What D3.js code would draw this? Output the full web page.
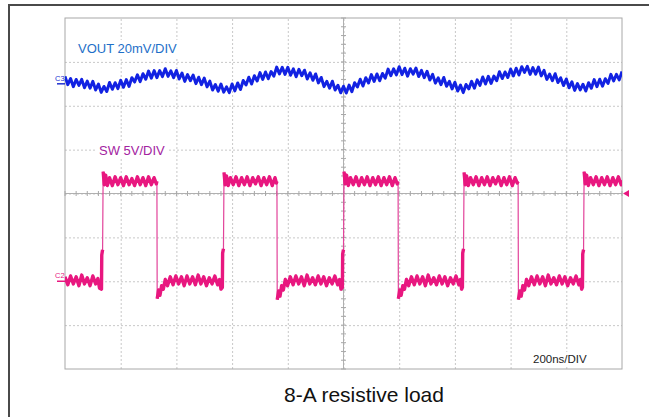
<!DOCTYPE html>
<html><head><meta charset="utf-8">
<script src="https://cdn.jsdelivr.net/npm/d3@7"></script>
<style>html,body{margin:0;padding:0;background:#fff;} svg{display:block;}</style>
</head><body>
<svg id="c" width="649" height="417"></svg>
<script>
// ---------- data ----------
const timeDomainNs = [0, 2000];          // 10 div x 200 ns
const divDomain = [-4, 4];               // 8 vertical divisions
const timeTicksNs = [0, 200, 400, 600, 800, 1000, 1200, 1400, 1600, 1800, 2000];
const divTicks = [-4, -3, -2, -1, 0, 1, 2, 3, 4];

// VOUT (C3) ripple, mV relative to channel offset, sampled every 10 ns
const voutStepNs = 10;
const voutMvPerDiv = 20;
const voutOffsetDiv = 2.5;
const voutMv = [
  3.4,-0.4,2.4,-1.3,2.0,-0.7,2.0,-1.8,1.2,-2.0,
  1.1,-2.8,-0.1,-3.9,-1.2,-3.5,0.6,-2.5,0.5,-2.2,
  1.6,-1.6,1.9,-1.2,2.8,0.8,4.1,1.0,4.6,2.1,
  5.8,2.6,6.0,2.8,6.0,3.3,6.9,3.4,5.9,2.8,
  6.1,2.2,4.9,1.1,4.2,1.4,4.0,0.1,3.0,-0.4,
  2.6,-1.4,1.2,-2.8,-0.3,-3.4,-0.1,-3.8,-1.4,-4.0,
  -0.1,-3.2,0.4,-2.6,1.5,-0.5,3.0,-0.1,3.7,1.3,
  5.1,2.0,5.4,2.3,5.6,3.5,7.6,4.5,7.5,4.3,
  7.5,3.9,6.8,3.2,6.6,3.7,6.2,2.2,5.0,1.6,
  4.5,0.4,2.9,-1.3,1.1,-2.0,1.2,-2.8,-0.7,-4.1,
  -1.1,-4.2,-0.6,-3.6,0.5,-1.4,2.1,-1.0,2.8,0.4,
  4.2,1.1,4.5,1.4,4.7,2.6,6.7,3.7,6.8,4.1,
  7.8,4.2,7.1,3.5,6.9,4.4,7.2,3.3,6.1,2.8,
  5.7,1.7,4.3,0.3,2.7,-0.4,2.9,-1.1,1.1,-2.3,
  0.7,-3.3,-0.6,-4.0,-0.3,-2.3,1.1,-2.0,1.8,-0.7,
  3.1,-0.1,3.4,0.2,3.5,1.4,5.5,2.4,5.4,2.9,
  6.7,3.6,7.1,4.0,7.8,5.2,8.0,4.3,7.4,4.4,
  7.6,3.6,6.1,2.0,4.4,1.4,4.6,0.6,2.7,-0.8,
  2.2,-1.8,0.9,-3.0,0.1,-2.8,-0.2,-3.3,0.5,-2.0,
  1.9,-1.3,2.1,-1.1,2.3,0.2,4.3,1.3,4.3,1.8,
  5.6
];

// SW (C2) node voltage, [time ns, volts]
const swVPerDiv = 5;
const swOffsetDiv = -2;
const swPoints = [
  [0,0.5],[10,-0.4],[20,0.6],[30,-0.3],[40,0.5],[50,-0.5],[60,0.7],[70,-0.3],[80,0.4],[90,-0.5],[100,0.6],[110,-0.3],[118,0.3],[124,-0.8],[131,-0.9],
  [132,3.0],[135,3.6],[137,12.5],
  [141,11.0],[146,12.1],[152,10.9],[160,11.8],[170,10.9],[180,11.9],[190,11.0],[200,11.8],[210,10.9],[220,11.9],[230,11.0],[240,11.7],[250,10.9],[260,11.9],[270,11.0],[280,11.8],[290,10.9],[300,11.9],[310,11.0],[320,11.8],[328,11.1],
  [330,11.4],[331,-2.0],[336,-1.0],[341,-1.6],[347,-0.5],[353,-0.9],[360,0.2],[368,-0.5],
  [378,0.5],[388,-0.4],[398,0.6],[408,-0.3],[418,0.5],[428,-0.5],[438,0.6],[448,-0.3],[458,0.5],[468,-0.4],[478,0.7],[488,-0.3],[498,0.5],[508,-0.5],[518,0.4],[528,-0.3],[538,0.6],[548,-0.4],[555,0.2],[560,-0.9],[565,-0.7],
  [566,3.2],[569,3.7],[571,12.4],
  [575,11.0],[580,12.0],[586,10.9],[594,11.8],[604,11.0],[614,11.9],[624,10.9],[634,11.8],[644,11.0],[654,11.9],[664,10.9],[674,11.8],[684,11.1],[694,11.9],[704,10.9],[714,11.8],[724,11.0],[734,11.9],[744,10.9],[754,11.8],[759,11.2],
  [761,11.4],[762,-2.1],[767,-1.1],[772,-1.7],[778,-0.5],[784,-1.0],[791,0.2],[799,-0.5],
  [809,0.5],[819,-0.4],[829,0.6],[839,-0.3],[849,0.5],[859,-0.5],[869,0.7],[879,-0.3],[889,0.4],[899,-0.4],[909,0.6],[919,-0.3],[929,0.5],[939,-0.5],[949,0.4],[959,-0.3],[969,0.6],[979,-0.4],[986,0.2],[991,-0.9],[996,-0.7],
  [997,3.1],[1000,3.6],[1002,12.5],
  [1006,11.1],[1011,12.1],[1017,10.9],[1025,11.8],[1035,11.0],[1045,11.9],[1055,10.9],[1065,11.8],[1075,11.0],[1085,11.9],[1095,10.9],[1105,11.8],[1115,11.0],[1125,11.9],[1135,10.9],[1145,11.8],[1155,11.0],[1165,11.9],[1175,10.9],[1185,11.8],[1193,11.1],
  [1196,11.4],[1197,-2.0],[1202,-1.0],[1207,-1.6],[1213,-0.5],[1219,-0.9],[1226,0.2],[1234,-0.5],
  [1244,0.5],[1254,-0.4],[1264,0.6],[1274,-0.3],[1284,0.5],[1294,-0.5],[1304,0.7],[1314,-0.3],[1324,0.4],[1334,-0.4],[1344,0.6],[1354,-0.3],[1364,0.5],[1374,-0.5],[1384,0.4],[1394,-0.3],[1404,0.6],[1414,-0.4],[1420,0.2],[1424,-0.9],[1427,-0.7],
  [1428,3.2],[1431,3.7],[1433,12.4],
  [1437,11.0],[1442,12.0],[1448,10.9],[1456,11.8],[1466,11.0],[1476,11.9],[1486,10.9],[1496,11.8],[1506,11.0],[1516,11.9],[1526,10.9],[1536,11.8],[1546,11.1],[1556,11.9],[1566,10.9],[1576,11.8],[1586,11.0],[1596,11.9],[1606,10.9],[1616,11.8],[1624,11.2],
  [1627,11.4],[1628,-2.1],[1633,-1.1],[1638,-1.7],[1644,-0.5],[1650,-1.0],[1657,0.2],[1665,-0.5],
  [1675,0.5],[1685,-0.4],[1695,0.6],[1705,-0.3],[1715,0.5],[1725,-0.5],[1735,0.7],[1745,-0.3],[1755,0.4],[1765,-0.4],[1775,0.6],[1785,-0.3],[1795,0.5],[1805,-0.5],[1815,0.4],[1825,-0.3],[1835,0.6],[1845,-0.4],[1851,0.2],[1855,-0.9],[1858,-0.7],
  [1859,3.1],[1862,3.6],[1864,12.5],
  [1868,11.1],[1873,12.1],[1879,10.9],[1887,11.8],[1897,11.0],[1907,11.9],[1917,10.9],[1927,11.8],[1937,11.0],[1947,11.9],[1957,10.9],[1967,11.8],[1977,11.0],[1987,11.9],[1997,11.0],[2000,11.5]
];

const voutLabel = "VOUT 20mV/DIV";
const swLabel = "SW 5V/DIV";
const timebaseLabel = "200ns/DIV";
const caption = "8-A resistive load";
const voutTag = "C3", swTag = "C2";

// ---------- drawing ----------
const svg = d3.select("#c");
const L = 65, R = 622, T = 18, B = 369;
const x = d3.scaleLinear().domain(timeDomainNs).range([L, R]);
const y = d3.scaleLinear().domain(divDomain).range([B, T]);

// outer frame
svg.append("line").attr("x1", 9).attr("x2", 649).attr("y1", 5).attr("y2", 5)
  .attr("stroke", "#4a4a4a").attr("stroke-width", 2);
svg.append("line").attr("x1", 9).attr("x2", 9).attr("y1", 4).attr("y2", 417)
  .attr("stroke", "#4a4a4a").attr("stroke-width", 2);

// grid
const gx = svg.append("g").attr("transform", `translate(0,${B})`)
  .call(d3.axisBottom(x).tickValues(timeTicksNs.slice(1, -1)).tickSize(-(B - T)).tickFormat(""));
const gy = svg.append("g").attr("transform", `translate(${L},0)`)
  .call(d3.axisLeft(y).tickValues(divTicks.slice(1, -1)).tickSize(-(R - L)).tickFormat(""));
[gx, gy].forEach(g => {
  g.select(".domain").remove();
  g.selectAll(".tick line").attr("stroke", "#c8c8c8").attr("stroke-dasharray", "2,2");
});

// center axes with minor ticks
const cx = x(1000), cy = y(0);
svg.append("line").attr("x1", L).attr("x2", R).attr("y1", cy).attr("y2", cy).attr("stroke", "#b0b0b0");
svg.append("line").attr("x1", cx).attr("x2", cx).attr("y1", T).attr("y2", B).attr("stroke", "#b0b0b0");
const minorT = d3.range(0, 2001, 40), minorD = d3.range(-4, 4.001, 0.2);
svg.append("g").selectAll("line").data(minorT).join("line")
  .attr("x1", d => x(d)).attr("x2", d => x(d)).attr("y1", cy - 2.5).attr("y2", cy + 2.5)
  .attr("stroke", "#a8a8a8");
svg.append("g").selectAll("line").data(minorD).join("line")
  .attr("y1", d => y(d)).attr("y2", d => y(d)).attr("x1", cx - 2.5).attr("x2", cx + 2.5)
  .attr("stroke", "#a8a8a8");

// plot border
svg.append("rect").attr("x", L).attr("y", T).attr("width", R - L).attr("height", B - T)
  .attr("fill", "none").attr("stroke", "#a8a8a8");

// labels with white background
function boxedText(txt, tx, ty, size, color) {
  const g = svg.append("g");
  const r = g.append("rect").attr("fill", "#fff");
  const t = g.append("text").attr("x", tx).attr("y", ty).attr("font-size", size)
    .attr("font-family", "'Liberation Sans', Arial, sans-serif").attr("fill", color).text(txt);
  const bb = t.node().getBBox();
  r.attr("x", bb.x - 3).attr("y", bb.y - 1).attr("width", bb.width + 6).attr("height", bb.height + 2);
  return g;
}
boxedText(voutLabel, 78, 53, 13, "#1e6fc8");
boxedText(swLabel, 99, 155, 13, "#a3239f");
boxedText(timebaseLabel, 533, 363, 11.5, "#222");

// clip
svg.append("clipPath").attr("id", "clip").append("rect")
  .attr("x", L).attr("y", T).attr("width", R - L).attr("height", B - T);

// VOUT trace
const voutLine = d3.line()
  .x((d, i) => x(i * voutStepNs))
  .y(d => y(d / voutMvPerDiv + voutOffsetDiv));
svg.append("path").attr("clip-path", "url(#clip)").attr("d", voutLine(voutMv))
  .attr("fill", "none").attr("stroke", "#1222e2").attr("stroke-width", 3).attr("stroke-linejoin", "round");

// SW trace: thin full path (edges) + heavier plateau runs
const swLine = d3.line()
  .x(d => x(d[0]))
  .y(d => y(d[1] / swVPerDiv + swOffsetDiv));
svg.append("path").attr("clip-path", "url(#clip)").attr("d", swLine(swPoints))
  .attr("fill", "none").attr("stroke", "#e2439a").attr("stroke-width", 1.2);
const runs = [];
let cur = [swPoints[0]];
for (let i = 1; i < swPoints.length; i++) {
  if (Math.abs(swPoints[i][1] - swPoints[i - 1][1]) > 4) { runs.push(cur); cur = []; }
  cur.push(swPoints[i]);
}
runs.push(cur);
svg.append("g").attr("clip-path", "url(#clip)").selectAll("path")
  .data(runs.filter(r => r.length > 1)).join("path")
  .attr("d", swLine)
  .attr("fill", "none").attr("stroke", "#e8177f").attr("stroke-width", 3.4).attr("stroke-linejoin", "round");

// channel markers
function marker(tag, level, color) {
  const yy = y(level);
  svg.append("text").attr("x", 55).attr("y", yy - 3).attr("font-size", 7.5)
    .attr("font-family", "'Liberation Sans', Arial, sans-serif").attr("fill", color).text(tag);
  svg.append("line").attr("x1", 57).attr("x2", L).attr("y1", yy).attr("y2", yy)
    .attr("stroke", color).attr("stroke-width", 1.5);
}
marker(voutTag, voutOffsetDiv, "#2030d0");
marker(swTag, swOffsetDiv, "#e8177f");

// trigger marker on right
svg.append("path")
  .attr("d", `M${R + 1},${cy} L${R + 7},${cy - 3.5} L${R + 7},${cy + 3.5} Z`)
  .attr("fill", "#e8177f");

// caption
svg.append("text").attr("x", 364).attr("y", 402).attr("text-anchor", "middle")
  .attr("font-size", 21).attr("font-family", "'Liberation Sans', Arial, sans-serif")
  .attr("fill", "#111").text(caption);
</script>
</body></html>
